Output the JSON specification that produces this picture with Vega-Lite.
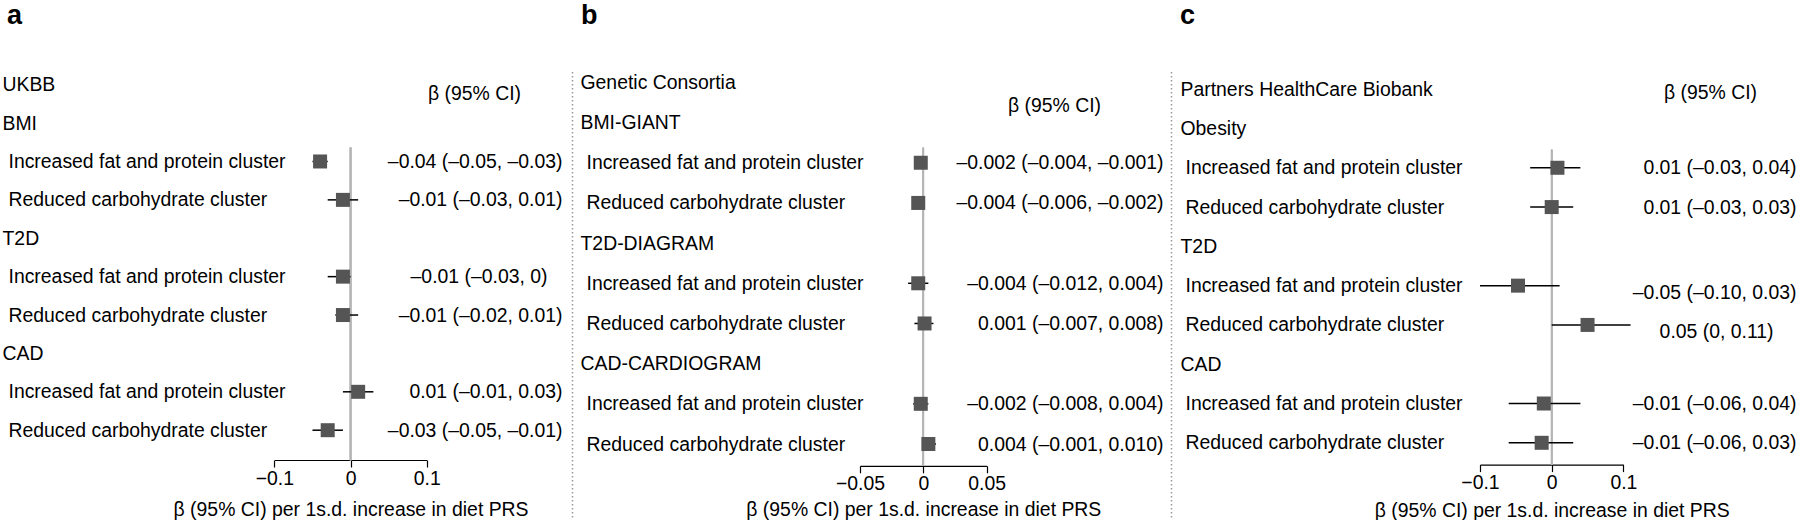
{
  "$schema": "https://vega.github.io/schema/vega-lite/v6.json",
  "background": "white",
  "padding": {"left": 0, "top": 2, "right": 0, "bottom": 0},
  "config": {
    "font": "Liberation Sans",
    "view": {"stroke": null},
    "axis": {"grid": false, "labelColor": "black", "titleColor": "black", "labelFontSize": 19.4, "titleFontSize": 19.4, "titleFontWeight": "normal"}
  },
  "spacing": 0,
  "bounds": "flush",
  "hconcat": [
    {
      "width": 572,
      "height": 446,
      "title": {"text": "a", "anchor": "start", "frame": "group", "dx": 7, "offset": 20, "fontSize": 27, "fontWeight": "bold", "baseline": "alphabetic", "color": "black"},
      "data": {"values": [
        {"key": "Increased fat and protein cluster|–0.04 (–0.05, –0.03)", "beta": -0.04, "lo": -0.05, "hi": -0.03},
        {"key": "Reduced carbohydrate cluster|–0.01 (–0.03, 0.01)", "beta": -0.01, "lo": -0.03, "hi": 0.01},
        {"key": "Increased fat and protein cluster|–0.01 (–0.03, 0)", "beta": -0.01, "lo": -0.03, "hi": 0},
        {"key": "Reduced carbohydrate cluster|–0.01 (–0.02, 0.01)", "beta": -0.01, "lo": -0.02, "hi": 0.01},
        {"key": "Increased fat and protein cluster|0.01 (–0.01, 0.03)", "beta": 0.01, "lo": -0.01, "hi": 0.03},
        {"key": "Reduced carbohydrate cluster|–0.03 (–0.05, –0.01)", "beta": -0.03, "lo": -0.05, "hi": -0.01}
      ]},
      "layer": [
        {
          "mark": {"type": "rule", "color": "#b5b5b5", "strokeWidth": 1.5, "yOffset": -14, "y2Offset": 30},
          "encoding": {
            "x": {"datum": 0, "type": "quantitative"},
            "y": {"datum": "Increased fat and protein cluster|–0.04 (–0.05, –0.03)", "type": "nominal", "axis": null},
            "y2": {"datum": "Reduced carbohydrate cluster|–0.03 (–0.05, –0.01)"}
          }
        },
        {
          "mark": {"type": "rule", "color": "black", "strokeWidth": 1.5},
          "encoding": {
            "x": {"field": "lo", "type": "quantitative"},
            "x2": {"field": "hi"},
            "y": {"field": "key", "type": "nominal", "axis": {
              "orient": "right", "title": null, "domain": false, "ticks": false, "tickSize": 0,
              "labelExpr": "indexof(datum.value, '|') >= 0 ? split(datum.value, '|')[1] : ''",
              "labelAlign": {"condition": {"test": "indexof(datum.value, '95%') >= 0", "value": "center"}, "value": "right"},
              "labelPadding": {"condition": [{"test": "indexof(datum.value, '95%') >= 0", "value": -98}, {"test": "indexof(datum.value, '03, 0)') >= 0", "value": -25}], "value": -10},
              "labelOffset": {"condition": {"test": "indexof(datum.value, '95%') >= 0", "value": 9}, "value": 0},
              "labelLimit": 1000, "labelOverlap": false
            }}
          }
        },
        {
          "mark": {"type": "point", "shape": "square", "filled": true, "size": 196, "color": "#555555", "opacity": 1},
          "encoding": {
            "x": {"field": "beta", "type": "quantitative",
              "scale": {"domain": [-0.1, 0.1], "range": [274.4, 426.7], "nice": false, "zero": false},
              "axis": {"title": "β (95% CI) per 1s.d. increase in diet PRS", "values": [-0.1, 0, 0.1], "format": "~g", "offset": -57, "tickSize": 7, "tickColor": "black", "tickWidth": 1.2, "domainColor": "black", "domainWidth": 1.2, "labelPadding": 2, "titlePadding": 13, "labelFlush": false}},
            "y": {"field": "key", "type": "nominal",
              "scale": {"type": "point", "domain": ["UKBB|β (95% CI)", "BMI", "Increased fat and protein cluster|–0.04 (–0.05, –0.03)", "Reduced carbohydrate cluster|–0.01 (–0.03, 0.01)", "T2D", "Increased fat and protein cluster|–0.01 (–0.03, 0)", "Reduced carbohydrate cluster|–0.01 (–0.02, 0.01)", "CAD", "Increased fat and protein cluster|0.01 (–0.01, 0.03)", "Reduced carbohydrate cluster|–0.03 (–0.05, –0.01)"], "padding": 0, "range": [13.7, 359.2], "round": false},
              "axis": {
                "orient": "left", "title": null, "domain": false, "ticks": false, "tickSize": 0,
                "labelExpr": "split(datum.value, '|')[0]",
                "labelAlign": "left",
                "labelPadding": {"condition": {"test": "indexof(datum.value, 'cluster') >= 0", "value": -8}, "value": -2},
                "labelLimit": 1000, "labelOverlap": false
              }}
          }
        }
      ],
      "resolve": {"axis": {"y": "independent"}}
    },
    {
      "width": 1,
      "height": 446,
      "data": {"values": [{}]},
      "mark": {"type": "point", "opacity": 0},
      "encoding": {
        "y": {"datum": 0, "type": "quantitative", "scale": {"domain": [0, 1]},
          "axis": {"title": null, "domain": true, "domainColor": "#9a9a9a", "domainWidth": 1.5, "domainDash": [1.5, 2.5], "ticks": false, "labels": false, "grid": false}}
      }
    },
    {
      "width": 598,
      "height": 446,
      "title": {"text": "b", "anchor": "start", "frame": "group", "dx": 8, "offset": 20, "fontSize": 27, "fontWeight": "bold", "baseline": "alphabetic", "color": "black"},
      "data": {"values": [
        {"key": "Increased fat and protein cluster|–0.002 (–0.004, –0.001)", "beta": -0.002, "lo": -0.004, "hi": -0.001},
        {"key": "Reduced carbohydrate cluster|–0.004 (–0.006, –0.002)", "beta": -0.004, "lo": -0.006, "hi": -0.002},
        {"key": "Increased fat and protein cluster|–0.004 (–0.012, 0.004)", "beta": -0.004, "lo": -0.012, "hi": 0.004},
        {"key": "Reduced carbohydrate cluster|0.001 (–0.007, 0.008)", "beta": 0.001, "lo": -0.007, "hi": 0.008},
        {"key": "Increased fat and protein cluster|–0.002 (–0.008, 0.004)", "beta": -0.002, "lo": -0.008, "hi": 0.004},
        {"key": "Reduced carbohydrate cluster|0.004 (–0.001, 0.010)", "beta": 0.004, "lo": -0.001, "hi": 0.01}
      ]},
      "layer": [
        {
          "mark": {"type": "rule", "color": "#b5b5b5", "strokeWidth": 1.5, "yOffset": -15, "y2Offset": 22},
          "encoding": {
            "x": {"datum": 0, "type": "quantitative"},
            "y": {"datum": "Increased fat and protein cluster|–0.002 (–0.004, –0.001)", "type": "nominal", "axis": null},
            "y2": {"datum": "Reduced carbohydrate cluster|0.004 (–0.001, 0.010)"}
          }
        },
        {
          "mark": {"type": "rule", "color": "black", "strokeWidth": 1.5},
          "encoding": {
            "x": {"field": "lo", "type": "quantitative"},
            "x2": {"field": "hi"},
            "y": {"field": "key", "type": "nominal", "axis": {
              "orient": "right", "title": null, "domain": false, "ticks": false, "tickSize": 0,
              "labelExpr": "indexof(datum.value, '|') >= 0 ? split(datum.value, '|')[1] : ''",
              "labelAlign": {"condition": {"test": "indexof(datum.value, '95%') >= 0", "value": "center"}, "value": "right"},
              "labelPadding": {"condition": {"test": "indexof(datum.value, '95%') >= 0", "value": -117}, "value": -8},
              "labelOffset": {"condition": {"test": "indexof(datum.value, '95%') >= 0", "value": 23}, "value": 0},
              "labelLimit": 1000, "labelOverlap": false
            }}
          }
        },
        {
          "mark": {"type": "point", "shape": "square", "filled": true, "size": 196, "color": "#555555", "opacity": 1},
          "encoding": {
            "x": {"field": "beta", "type": "quantitative",
              "scale": {"domain": [-0.05, 0.05], "range": [287, 413.6], "nice": false, "zero": false},
              "axis": {"title": "β (95% CI) per 1s.d. increase in diet PRS", "values": [-0.05, 0, 0.05], "format": "~g", "offset": -51.2, "tickSize": 7, "tickColor": "black", "tickWidth": 1.2, "domainColor": "black", "domainWidth": 1.2, "labelPadding": 2, "titlePadding": 7, "labelFlush": false}},
            "y": {"field": "key", "type": "nominal",
              "scale": {"type": "point", "domain": ["Genetic Consortia|β (95% CI)", "BMI-GIANT", "Increased fat and protein cluster|–0.002 (–0.004, –0.001)", "Reduced carbohydrate cluster|–0.004 (–0.006, –0.002)", "T2D-DIAGRAM", "Increased fat and protein cluster|–0.004 (–0.012, 0.004)", "Reduced carbohydrate cluster|0.001 (–0.007, 0.008)", "CAD-CARDIOGRAM", "Increased fat and protein cluster|–0.002 (–0.008, 0.004)", "Reduced carbohydrate cluster|0.004 (–0.001, 0.010)"], "padding": 0, "range": [11.4, 373], "round": false},
              "axis": {
                "orient": "left", "title": null, "domain": false, "ticks": false, "tickSize": 0,
                "labelExpr": "split(datum.value, '|')[0]",
                "labelAlign": "left",
                "labelPadding": {"condition": {"test": "indexof(datum.value, 'cluster') >= 0", "value": -13}, "value": -7},
                "labelLimit": 1000, "labelOverlap": false
              }}
          }
        }
      ],
      "resolve": {"axis": {"y": "independent"}}
    },
    {
      "width": 1,
      "height": 446,
      "data": {"values": [{}]},
      "mark": {"type": "point", "opacity": 0},
      "encoding": {
        "y": {"datum": 0, "type": "quantitative", "scale": {"domain": [0, 1]},
          "axis": {"title": null, "domain": true, "domainColor": "#9a9a9a", "domainWidth": 1.5, "domainDash": [1.5, 2.5], "ticks": false, "labels": false, "grid": false}}
      }
    },
    {
      "width": 628,
      "height": 446,
      "title": {"text": "c", "anchor": "start", "frame": "group", "dx": 8, "offset": 20, "fontSize": 27, "fontWeight": "bold", "baseline": "alphabetic", "color": "black"},
      "data": {"values": [
        {"key": "Increased fat and protein cluster|0.01 (–0.03, 0.04)", "beta": 0.008, "lo": -0.03, "hi": 0.04},
        {"key": "Reduced carbohydrate cluster|0.01 (–0.03, 0.03)", "beta": 0.0, "lo": -0.03, "hi": 0.03},
        {"key": "Increased fat and protein cluster|–0.05 (–0.10, 0.03)", "beta": -0.047, "lo": -0.1, "hi": 0.011},
        {"key": "Reduced carbohydrate cluster|0.05 (0, 0.11)", "beta": 0.05, "lo": 0, "hi": 0.11},
        {"key": "Increased fat and protein cluster|–0.01 (–0.06, 0.04)", "beta": -0.011, "lo": -0.06, "hi": 0.04},
        {"key": "Reduced carbohydrate cluster|–0.01 (–0.06, 0.03)", "beta": -0.014, "lo": -0.06, "hi": 0.03}
      ]},
      "layer": [
        {
          "mark": {"type": "rule", "color": "#b5b5b5", "strokeWidth": 1.5, "yOffset": -18, "y2Offset": 22},
          "encoding": {
            "x": {"datum": 0, "type": "quantitative"},
            "y": {"datum": "Increased fat and protein cluster|0.01 (–0.03, 0.04)", "type": "nominal", "axis": null},
            "y2": {"datum": "Reduced carbohydrate cluster|–0.01 (–0.06, 0.03)"}
          }
        },
        {
          "mark": {"type": "rule", "color": "black", "strokeWidth": 1.5},
          "encoding": {
            "x": {"field": "lo", "type": "quantitative"},
            "x2": {"field": "hi"},
            "y": {"field": "key", "type": "nominal", "axis": {
              "orient": "right", "title": null, "domain": false, "ticks": false, "tickSize": 0,
              "labelExpr": "indexof(datum.value, '|') >= 0 ? split(datum.value, '|')[1] : ''",
              "labelAlign": {"condition": {"test": "indexof(datum.value, '95%') >= 0", "value": "center"}, "value": "right"},
              "labelPadding": {"condition": [{"test": "indexof(datum.value, '95%') >= 0", "value": -90}, {"test": "indexof(datum.value, '(0, ') >= 0", "value": -27}], "value": -4},
              "labelOffset": {"condition": [{"test": "indexof(datum.value, '95%') >= 0", "value": 3}, {"test": "indexof(datum.value, '0.10, ') >= 0 || indexof(datum.value, '(0, ') >= 0", "value": 7}], "value": 0},
              "labelLimit": 1000, "labelOverlap": false
            }}
          }
        },
        {
          "mark": {"type": "point", "shape": "square", "filled": true, "size": 196, "color": "#555555", "opacity": 1},
          "encoding": {
            "x": {"field": "beta", "type": "quantitative",
              "scale": {"domain": [-0.1, 0.1], "range": [308, 451.4], "nice": false, "zero": false},
              "axis": {"title": "β (95% CI) per 1s.d. increase in diet PRS", "values": [-0.1, 0, 0.1], "format": "~g", "offset": -52.4, "tickSize": 7, "tickColor": "black", "tickWidth": 1.2, "domainColor": "black", "domainWidth": 1.2, "labelPadding": 2, "titlePadding": 9, "labelFlush": false}},
            "y": {"field": "key", "type": "nominal",
              "scale": {"type": "point", "domain": ["Partners HealthCare Biobank|β (95% CI)", "Obesity", "Increased fat and protein cluster|0.01 (–0.03, 0.04)", "Reduced carbohydrate cluster|0.01 (–0.03, 0.03)", "T2D", "Increased fat and protein cluster|–0.05 (–0.10, 0.03)", "Reduced carbohydrate cluster|0.05 (0, 0.11)", "CAD", "Increased fat and protein cluster|–0.01 (–0.06, 0.04)", "Reduced carbohydrate cluster|–0.01 (–0.06, 0.03)"], "padding": 0, "range": [18.2, 371.8], "round": false},
              "axis": {
                "orient": "left", "title": null, "domain": false, "ticks": false, "tickSize": 0,
                "labelExpr": "split(datum.value, '|')[0]",
                "labelAlign": "left",
                "labelPadding": {"condition": {"test": "indexof(datum.value, 'cluster') >= 0", "value": -13}, "value": -8},
                "labelLimit": 1000, "labelOverlap": false
              }}
          }
        }
      ],
      "resolve": {"axis": {"y": "independent"}}
    }
  ]
}
